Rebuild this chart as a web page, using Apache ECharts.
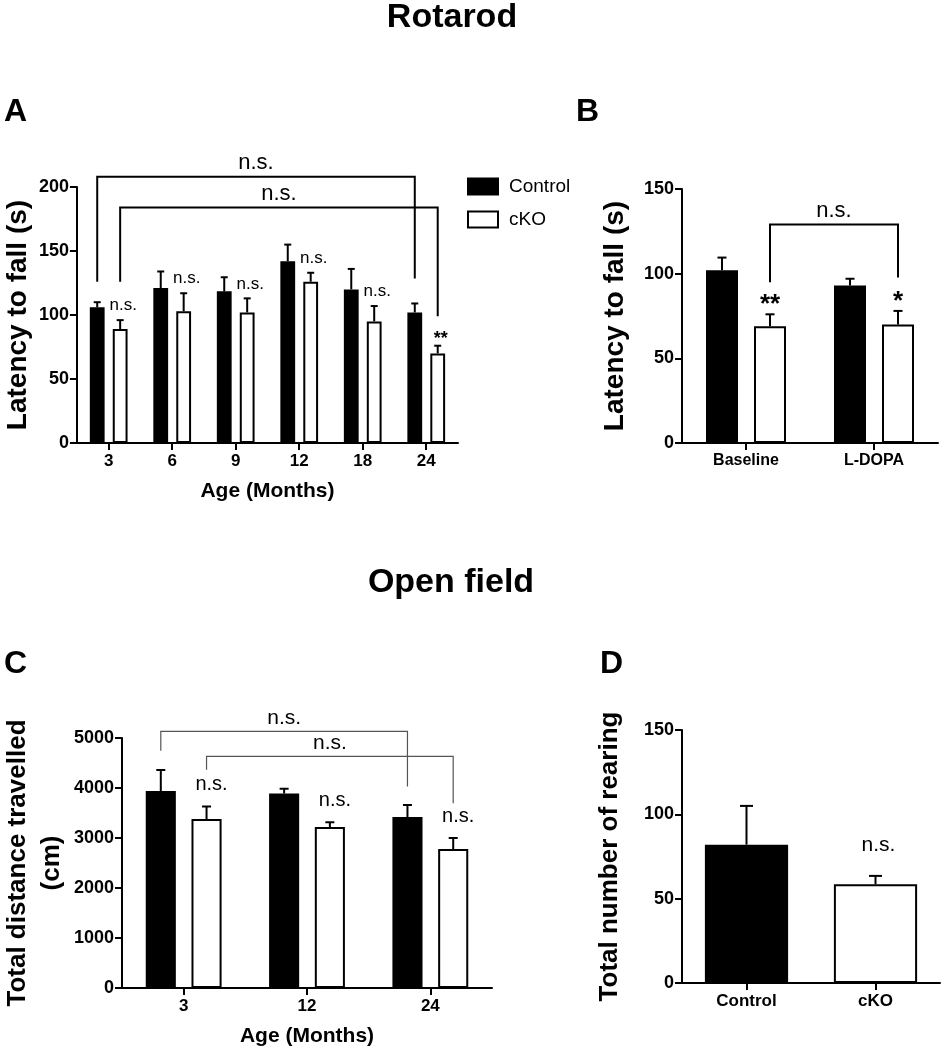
<!DOCTYPE html>
<html><head><meta charset="utf-8">
<script src="https://cdn.jsdelivr.net/npm/echarts@6/dist/echarts.min.js"></script>
<style>html,body{margin:0;padding:0;background:#fff}#c{width:942px;height:1050px}</style>
</head><body><div id="c"></div>
<script>
// ---------- data ----------
const rotarodAges = ['3', '6', '9', '12', '18', '24'];
const rotarodControl = [106, 121, 118.5, 142, 120, 102];
const rotarodControlErr = [4, 13, 11, 13, 16, 7];
const rotarodCKO = [89, 103, 102, 126, 95, 70];
const rotarodCKOErr = [7, 14, 11, 7, 12, 6];
const rotarodCKOSig = ['n.s.', 'n.s.', 'n.s.', 'n.s.', 'n.s.', '**'];
const rotarodYTicks = [0, 50, 100, 150, 200];

const ldopaGroups = ['Baseline', 'L-DOPA'];
const ldopaControl = [102, 93];
const ldopaControlErr = [7.5, 4];
const ldopaCKO = [69, 70];
const ldopaCKOErr = [7, 8];
const ldopaCKOSig = ['**', '*'];
const ldopaYTicks = [0, 50, 100, 150];

const openFieldAges = ['3', '12', '24'];
const openFieldControl = [3940, 3890, 3420];
const openFieldControlErr = [420, 95, 240];
const openFieldCKO = [3380, 3220, 2780];
const openFieldCKOErr = [250, 95, 220];
const openFieldCKOSig = ['n.s.', 'n.s.', 'n.s.'];
const openFieldYTicks = [0, 1000, 2000, 3000, 4000, 5000];

const rearingGroups = ['Control', 'cKO'];
const rearingValues = [82, 58.5];
const rearingErr = [23, 5];
const rearingSig = ['', 'n.s.'];
const rearingYTicks = [0, 50, 100, 150];

// comparison brackets: [leftCat, leftGroup, rightCat, rightGroup, leftEnd, rightEnd, barLevel]
const rotarodBrackets = [[0, 0, 5, 0, 126, 128.5, 208], [0, 1, 5, 1, 126, 99, 184]];
const rotarodBracketText = ['n.s.', 'n.s.'];
const ldopaBrackets = [[0, 1, 1, 1, 95, 97.7, 129]];
const ldopaBracketText = ['n.s.'];
const openFieldBrackets = [[0, 0, 2, 0, 4745, 4030, 5132], [0, 1, 2, 1, 4364, 3697, 4631]];
const openFieldBracketText = ['n.s.', 'n.s.'];

// ---------- helpers ----------
const FONT = '"Liberation Sans", Arial, Helvetica, sans-serif';
const layouts = [
  { bar: 0.233, gap: 0.55, groups: 2 },
  { bar: 0.25, gap: 0.5, groups: 2 },
  { bar: 0.244, gap: 0.52, groups: 2 },
  { bar: 0.645, gap: 0, groups: 1 }
];
function offsetFor(layout, band, g) {
  if (layout.groups === 1) return 0;
  const w = band * layout.bar;
  return (w + w * layout.gap) / 2 * (g === 0 ? -1 : 1);
}
function pct(v) { return (v * 100).toFixed(2) + '%'; }

function errorSeries(idx, rows, sigs, cfg) {
  const layout = layouts[idx];
  return {
    type: 'custom', xAxisIndex: idx, yAxisIndex: idx, clip: false, silent: true, z: 5,
    data: rows,
    renderItem: function (params, api) {
      const cat = api.value(0), mean = api.value(1), err = api.value(2), g = api.value(3);
      const band = api.size([1, 0])[0];
      const base = api.coord([cat, mean]);
      const top = api.coord([cat, mean + err]);
      const x = base[0] + offsetFor(layout, band, g);
      const children = [
        { type: 'line', shape: { x1: x, y1: base[1], x2: x, y2: top[1] }, style: { stroke: '#000', lineWidth: 2 } },
        { type: 'line', shape: { x1: x - cfg.cap / 2, y1: top[1], x2: x + cfg.cap / 2, y2: top[1] }, style: { stroke: '#000', lineWidth: 2 } }
      ];
      const s = sigs[params.dataIndex];
      if (s) {
        const star = s.indexOf('*') >= 0;
        children.push({
          type: 'text', x: x + cfg.dx, y: top[1] - (star ? cfg.starGap : cfg.gap),
          style: {
            text: s, fill: '#000', fontFamily: FONT,
            fontSize: star ? cfg.starSize : cfg.size, fontWeight: star ? 'bold' : 'normal',
            align: 'center', verticalAlign: 'bottom'
          }
        });
      }
      return { type: 'group', children: children };
    }
  };
}

function bracketSeries(idx, rows, texts, cfg) {
  const layout = layouts[idx];
  return {
    type: 'custom', xAxisIndex: idx, yAxisIndex: idx, clip: false, silent: true, z: 6,
    data: rows,
    renderItem: function (params, api) {
      const band = api.size([1, 0])[0];
      const lc = api.value(0), lg = api.value(1), rc = api.value(2), rg = api.value(3);
      const le = api.value(4), re = api.value(5), lvl = api.value(6);
      const pL = api.coord([lc, le]);
      const pR = api.coord([rc, re]);
      const pT = api.coord([lc, lvl]);
      const xl = pL[0] + offsetFor(layout, band, lg);
      const xr = pR[0] + offsetFor(layout, band, rg);
      return {
        type: 'group', children: [
          { type: 'polyline', shape: { points: [[xl, pL[1]], [xl, pT[1]], [xr, pT[1]], [xr, pR[1]]] },
            style: { stroke: cfg.color, lineWidth: cfg.width, fill: null } },
          { type: 'text', x: (xl + xr) / 2, y: pT[1] - cfg.gap,
            style: { text: texts[params.dataIndex], fill: '#000', fontFamily: FONT, fontSize: cfg.size,
              align: 'center', verticalAlign: 'bottom' } }
        ]
      };
    }
  };
}

function makeRows(ctrl, ctrlErr, cko, ckoErr, ckoSig) {
  const rows = [], sigs = [];
  ctrl.forEach(function (v, i) {
    rows.push([i, v, ctrlErr[i], 0]); sigs.push('');
    rows.push([i, cko[i], ckoErr[i], 1]); sigs.push(ckoSig[i]);
  });
  return { rows: rows, sigs: sigs };
}

const axisLineStyle = { show: true, lineStyle: { color: '#000', width: 2 } };
const tickStyle = { show: true, length: 7, lineStyle: { color: '#000', width: 2 } };
function yAxis(idx, ticks, name, gap, nameSize) {
  return {
    type: 'value', gridIndex: idx, min: ticks[0], max: ticks[ticks.length - 1], interval: ticks[1] - ticks[0],
    axisLine: axisLineStyle, axisTick: tickStyle, splitLine: { show: false },
    axisLabel: { color: '#000', fontWeight: 'bold', fontSize: 18, fontFamily: FONT, margin: 8,
      formatter: function (v) { return String(v); } },
    name: name, nameLocation: 'middle', nameGap: gap,
    nameTextStyle: { color: '#000', fontWeight: 'bold', fontSize: nameSize, fontFamily: FONT, lineHeight: 34 }
  };
}
function xAxis(idx, cats, name, labelSize) {
  return {
    type: 'category', gridIndex: idx, data: cats,
    axisLine: axisLineStyle, axisTick: Object.assign({ alignWithLabel: true }, tickStyle),
    axisLabel: { color: '#000', fontWeight: 'bold', fontSize: labelSize, fontFamily: FONT, margin: 10 },
    name: name, nameLocation: 'middle', nameGap: 38,
    nameTextStyle: { color: '#000', fontWeight: 'bold', fontSize: 21, fontFamily: FONT }
  };
}
const controlStyle = { color: '#000', borderColor: '#000', borderWidth: 2 };
const ckoStyle = { color: '#fff', borderColor: '#000', borderWidth: 2 };
function barPair(idx, ctrl, cko) {
  const l = layouts[idx];
  return [
    { name: 'Control', type: 'bar', xAxisIndex: idx, yAxisIndex: idx, data: ctrl, itemStyle: controlStyle,
      barWidth: pct(l.bar), barGap: pct(l.gap), silent: true },
    { name: 'cKO', type: 'bar', xAxisIndex: idx, yAxisIndex: idx, data: cko, itemStyle: ckoStyle,
      barWidth: pct(l.bar), barGap: pct(l.gap), silent: true }
  ];
}

const rA = makeRows(rotarodControl, rotarodControlErr, rotarodCKO, rotarodCKOErr, rotarodCKOSig);
const rB = makeRows(ldopaControl, ldopaControlErr, ldopaCKO, ldopaCKOErr, ldopaCKOSig);
const rC = makeRows(openFieldControl, openFieldControlErr, openFieldCKO, openFieldCKOErr, openFieldCKOSig);
const rD = { rows: rearingValues.map(function (v, i) { return [i, v, rearingErr[i], 0]; }), sigs: rearingSig };

function titleText(text, x, y, size, align) {
  return { type: 'text', x: x, y: y, style: { text: text, fill: '#000', fontFamily: FONT, fontSize: size,
    fontWeight: 'bold', align: align || 'left', verticalAlign: 'top' } };
}

const option = {
  animation: false,
  backgroundColor: '#fff',
  grid: [
    { left: 71, top: 187, width: 387, height: 256 },
    { left: 682, top: 189, width: 256, height: 254 },
    { left: 110, top: 738, width: 382, height: 250 },
    { left: 682, top: 730, width: 258, height: 253 }
  ],
  legend: {
    data: ['Control', 'cKO'], orient: 'vertical', left: 462, top: 172,
    itemWidth: 30, itemHeight: 16, itemGap: 14, icon: 'rect', selectedMode: false,
    textStyle: { color: '#000', fontSize: 19, fontFamily: FONT, padding: [0, 0, 0, 6] }
  },
  xAxis: [
    xAxis(0, rotarodAges, 'Age (Months)', 17),
    xAxis(1, ldopaGroups, '', 16),
    xAxis(2, openFieldAges, 'Age (Months)', 17),
    xAxis(3, rearingGroups, '', 17)
  ],
  yAxis: [
    yAxis(0, rotarodYTicks, 'Latency to fall (s)', 39, 28),
    yAxis(1, ldopaYTicks, 'Latency to fall (s)', 50, 28),
    yAxis(2, openFieldYTicks, 'Total distance travelled\n(cm)', 53, 26),
    yAxis(3, rearingYTicks, 'Total number of rearing', 55, 26)
  ],
  graphic: [
    titleText('Rotarod', 452, 1, 34, 'center'),
    titleText('Open field', 451, 566, 34, 'center'),
    titleText('A', 4, 96, 32),
    titleText('B', 576, 96, 32),
    titleText('C', 4, 648, 32),
    titleText('D', 600, 648, 32)
  ],
  series: [].concat(
    barPair(0, rotarodControl, rotarodCKO),
    barPair(1, ldopaControl, ldopaCKO),
    barPair(2, openFieldControl, openFieldCKO),
    [{
      name: 'Rearing', type: 'bar', xAxisIndex: 3, yAxisIndex: 3, barWidth: pct(layouts[3].bar), silent: true,
      data: rearingValues.map(function (v, i) { return { value: v, itemStyle: i === 0 ? controlStyle : ckoStyle }; })
    }],
    [
      errorSeries(0, rA.rows, rA.sigs, { cap: 7, dx: 3, gap: 6, size: 17, starGap: -2, starSize: 18 }),
      errorSeries(1, rB.rows, rB.sigs, { cap: 9, dx: 0, gap: 6, size: 20, starGap: -4, starSize: 26 }),
      errorSeries(2, rC.rows, rC.sigs, { cap: 9, dx: 5, gap: 12, size: 20, starGap: 0, starSize: 20 }),
      errorSeries(3, rD.rows, rD.sigs, { cap: 13, dx: 3, gap: 20, size: 21, starGap: 0, starSize: 20 }),
      bracketSeries(0, rotarodBrackets, rotarodBracketText, { color: '#000', width: 2, gap: 3, size: 22 }),
      bracketSeries(1, ldopaBrackets, ldopaBracketText, { color: '#000', width: 2, gap: 3, size: 22 }),
      bracketSeries(2, openFieldBrackets, openFieldBracketText, { color: '#555', width: 1.2, gap: 3, size: 21 })
    ]
  )
};
const chart = echarts.init(document.getElementById('c'), null, { renderer: 'canvas' });
chart.setOption(option);
</script>
</body></html>
